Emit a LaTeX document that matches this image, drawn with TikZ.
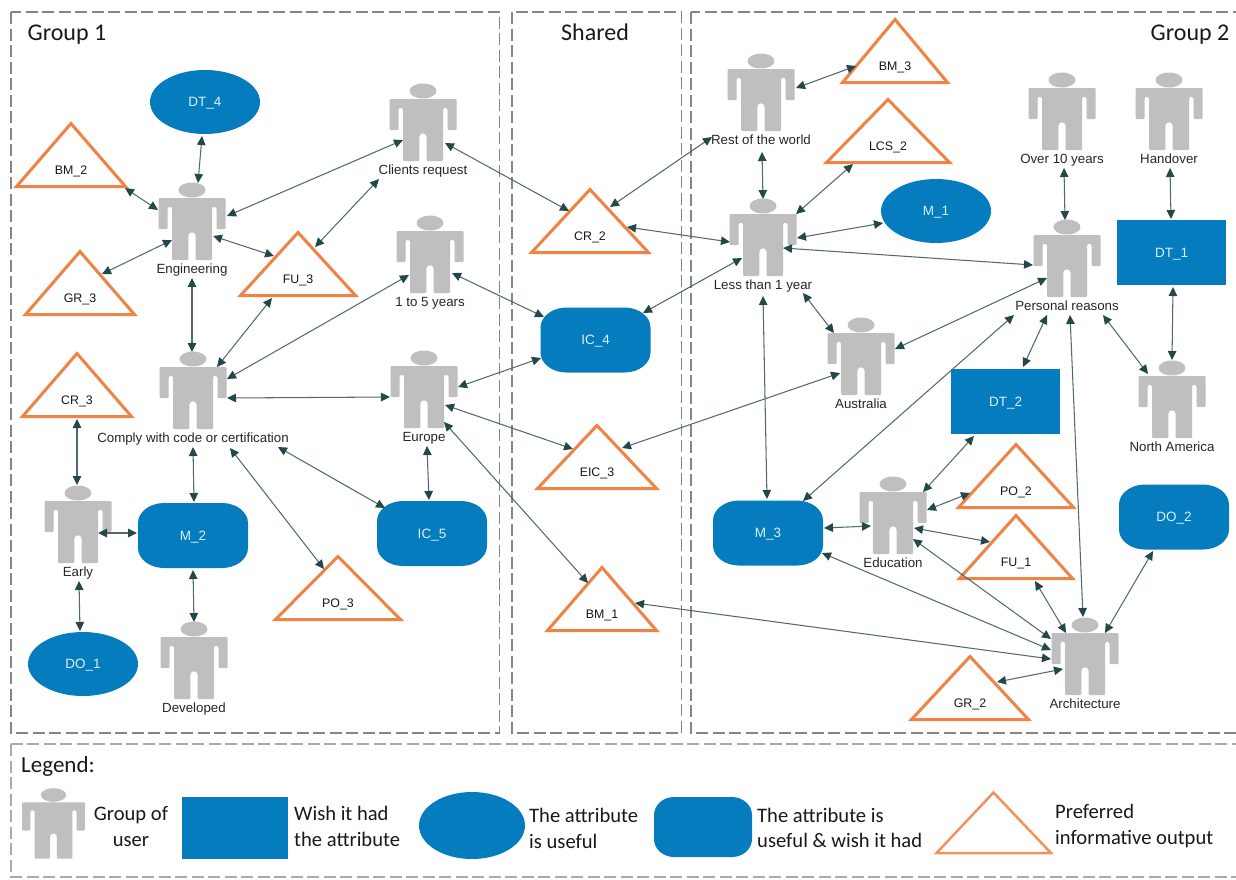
\documentclass[tikz,border=0pt]{standalone}
\usepackage{fontspec}
\setmainfont{Liberation Sans}
\newfontfamily\titlefont{Carlito}
\usetikzlibrary{arrows.meta,shapes.geometric}
\definecolor{persongray}{HTML}{BFBFBF}
\definecolor{attrblue}{HTML}{047CBE}
\definecolor{attrtext}{HTML}{DDF0F9}
\definecolor{triorange}{HTML}{EE8343}
\definecolor{trilight}{HTML}{F1925C}
\definecolor{linkline}{HTML}{4F6B6B}
\definecolor{linkhead}{HTML}{24474A}
\definecolor{panelgray}{HTML}{858585}
\tikzset{
  panel/.style={draw=panelgray,line width=1.3pt,dash pattern=on 12pt off 4.5pt},
  link/.style={draw=linkline,line width=1.05pt,{Triangle[length=9pt,width=8.5pt,color=linkhead]}-{Triangle[length=9pt,width=8.5pt,color=linkhead]}},
  personbox/.style={rectangle,minimum width=67pt,minimum height=78pt,inner sep=0pt},
  plabel/.style={inner sep=0pt,text height=11pt,text depth=2pt,text=black!85,font=\fontsize{13.3}{15}\selectfont},
  tlabel/.style={inner sep=1pt,text height=10pt,text depth=1pt,text=black!90,font=\fontsize{12.4}{14}\selectfont},
  triline/.style={draw=triorange,line width=3pt,fill=white,miter limit=10},
  attrlabel/.style={inner sep=0pt,text height=10.5pt,text depth=1.5pt,text=attrtext,font=\fontsize{13.5}{15}\selectfont},
  ovalnode/.style={attrlabel,ellipse,fill=attrblue,minimum width=110pt,minimum height=64pt},
  rectnode/.style={attrlabel,rectangle,fill=attrblue,minimum width=109pt,minimum height=65pt},
  blobnode/.style={attrlabel,rectangle,minimum width=110pt,minimum height=65pt},
  paneltitle/.style={inner sep=0pt,anchor=base,text=black!90,font=\titlefont\fontsize{24}{28}\selectfont},
  legendtext/.style={inner sep=0pt,text=black!90,align=left,font=\titlefont\fontsize{20.6}{25.5}\selectfont},
}
% a person: centre x, head y
\newcommand\personshape[2]{%
  \fill[persongray] (#1,#2) ellipse[x radius=13.5,y radius=7.5];
  \begin{scope}[shift={(#1,#2)}]
  \fill[persongray,rounded corners=1pt]
    (-33.5,8) -- (33.5,8) -- (33.5,39) -- (24.5,39) -- (24.5,20)
    .. controls (24.5,16) and (20,16) .. (20,20) -- (20,70) -- (3.7,70) -- (3.7,47)
    .. controls (3.7,41) and (-3.7,41) .. (-3.7,47) -- (-3.7,70) -- (-20,70) -- (-20,20)
    .. controls (-20,16) and (-24.5,16) .. (-24.5,20) -- (-24.5,39) -- (-33.5,39) -- cycle;
  \end{scope}}
% name, centre x, head y, label
\newcommand\person[4]{%
  \personshape{#2}{#3}
  \node[personbox] (#1) at (#2,#3+31) {};
  \node[plabel] (#1L) at (#2,#3+78.5) {#4};}
% name, x, label y, half width, label
\newcommand\tri[5]{%
  \draw[triline] (#2,#3-46.5) -- (#2+#4+1.5,#3+16.5) -- (#2-#4-1.5,#3+16.5) -- cycle;
  \node[tlabel] (#1) at (#2,#3) {#5};}
% blob outline: cx, cy, half width, half height, rx, ry
\newcommand\blobshape[6]{%
  \begin{scope}[shift={(#1,#2)}]
  \fill[attrblue] (-#3+#5,-#4) -- (#3-#5,-#4)
    .. controls (#3-.45*#5,-#4) and (#3,-#4+.45*#6) .. (#3,-#4+#6)
    -- (#3,#4-#6)
    .. controls (#3,#4-.45*#6) and (#3-.45*#5,#4) .. (#3-#5,#4)
    -- (-#3+#5,#4)
    .. controls (-#3+.45*#5,#4) and (-#3,#4-.45*#6) .. (-#3,#4-#6)
    -- (-#3,-#4+#6)
    .. controls (-#3,-#4+.45*#6) and (-#3+.45*#5,-#4) .. (-#3+#5,-#4) -- cycle;
  \end{scope}}
\newcommand\blob[4]{%
  \blobshape{#2}{#3}{55}{32.5}{26}{20}
  \node[blobnode] (#1) at (#2,#3) {#4};}
\newcommand\conn[6]{\draw[link] ([shift={(#2,#3)}]#1.center) -- ([shift={(#5,#6)}]#4.center);}
\begin{document}
\begin{tikzpicture}[x=1pt,y=-1pt]
\useasboundingbox (0,0) rectangle (1236,879);
\begin{scope}
\clip (0,0) rectangle (1236,879);
\draw[panel] (11,12) rectangle (499.5,733);
\draw[panel] (512,12) rectangle (681.5,733);
\draw[panel] (691,12) rectangle (1245,733);
\draw[panel,draw=panelgray!70] (11,744) rectangle (1245,877);
\end{scope}
\node[paneltitle] (g1) at (67,40) {Group 1};
\node[paneltitle] (sh) at (595,40) {Shared};
\node[paneltitle] (g2) at (1190,40) {Group 2};

% persons
\person{eng}{192}{190}{Engineering}
\person{clients}{423}{91}{Clients request}
\person{yrs}{430}{223}{1 to 5 years}
\person{comply}{193}{359}{Comply with code or certification}
\person{europe}{424}{358}{Europe}
\person{early}{78}{493}{Early}
\person{dev}{194}{629}{Developed}
\person{rest}{761}{61}{Rest of the world}
\person{less}{763}{206}{Less than 1 year}
\person{over}{1062}{80}{Over 10 years}
\person{hand}{1169}{80}{Handover}
\person{pers}{1067}{227}{Personal reasons}
\person{nam}{1172}{368}{North America}
\person{aus}{861}{325}{Australia}
\person{edu}{893}{484}{Education}
\person{arch}{1085}{625}{Architecture}

% triangles
\tri{bmtwo}{71}{170}{53}{BM\_2}
\tri{grthree}{80}{298}{53}{GR\_3}
\tri{futhree}{298}{279}{56}{FU\_3}
\tri{crthree}{77}{400}{53}{CR\_3}
\tri{pothree}{338}{603}{61}{PO\_3}
\tri{crtwo}{590}{236}{57}{CR\_2}
\tri{eicthree}{597}{472}{58}{EIC\_3}
\tri{bmone}{602}{614}{53}{BM\_1}
\tri{bmthree}{895}{66}{51}{BM\_3}
\tri{lcstwo}{888}{146}{60}{LCS\_2}
\tri{potwo}{1016}{491}{56}{PO\_2}
\tri{fuone}{1016}{562}{55}{FU\_1}
\tri{grtwo}{970}{703}{57}{GR\_2}

% attribute shapes
\node[ovalnode] (dtfour) at (205,102) {DT\_4};
\node[ovalnode] (mone) at (936,211) {M\_1};
\node[ovalnode] (doone) at (83,664) {DO\_1};
\node[rectnode] (dtone) at (1171.5,252.5) {DT\_1};
\node[rectnode] (dttwo) at (1005.5,401.5) {DT\_2};
\blob{icfour}{595.5}{340}{IC\_4}
\blob{mtwo}{193}{535.5}{M\_2}
\blob{icfive}{432}{533.5}{IC\_5}
\blob{mthree}{768}{533}{M\_3}
\blob{dotwo}{1174}{517}{DO\_2}

% connectors
\conn{dtfour}{-3}{34}{eng}{6}{-38}
\conn{bmtwo}{54}{18}{eng}{-34}{-11}
\conn{grthree}{22}{-24}{eng}{-20}{19}
\conn{eng}{21}{15}{futhree}{-24}{-23}
\conn{eng}{35}{-5}{clients}{-20}{18}
\conn{futhree}{17}{-32}{clientsL}{-44}{9.5}
\conn{engL}{0}{9.5}{comply}{-1}{-38}
\conn{futhree}{-26}{19}{comply}{24}{-23}
\conn{yrs}{-21}{21}{comply}{34}{-11}
\conn{clients}{22}{21}{crtwo}{-21}{-25}
\conn{yrs}{22}{19}{icfour}{-51.5}{-23}
\conn{comply}{34}{8}{europe}{-34}{8}
\conn{complyL}{0}{9.5}{mtwo}{1}{-33.5}
\conn{crthree}{0}{19}{early}{-1}{-39}
\conn{early}{20}{9}{mtwo}{-56}{-2.5}
\conn{earlyL}{1}{9.5}{doone}{-3}{-33}
\conn{mtwo}{0}{34.5}{dev}{0}{-38}
\conn{complyL}{37}{10.5}{pothree}{-14}{-34}
\conn{complyL}{85}{9.5}{icfive}{-47}{-25.5}
\conn{europe}{34}{-2}{icfour}{-54.5}{18}
\conn{europe}{21}{16}{eicthree}{-24}{-23}
\conn{europe}{20}{33}{bmone}{-14}{-31}
\conn{europeL}{3}{9.5}{icfive}{-3}{-33.5}
\conn{eicthree}{25}{-24}{aus}{-21}{17}
\conn{bmone}{33}{-11}{arch}{-34}{3}
\conn{crtwo}{20}{-29}{restL}{-49}{-2.5}
\conn{crtwo}{37}{-9}{less}{-33}{5}
\conn{icfour}{47.5}{-27}{less}{-21}{21}
\conn{rest}{35}{-4}{bmthree}{-39}{0}
\conn{restL}{1}{12.5}{less}{0}{-38}
\conn{less}{33}{-23}{lcstwo}{-35}{18}
\conn{less}{34}{1}{mone}{-53}{12}
\conn{less}{20}{11}{pers}{-34}{7}
\conn{lessL}{0}{11.5}{mthree}{-1}{-34}
\conn{lessL}{40}{8.5}{aus}{-27}{-23}
\conn{pers}{-20}{20}{aus}{34}{-7}
\conn{persL}{-53}{9.5}{mthree}{35}{-32}
\conn{persL}{-20}{9.5}{dttwo}{17.5}{-34.5}
\conn{persL}{3}{9.5}{arch}{-2}{-39}
\conn{persL}{36}{9.5}{nam}{-24}{-25}
\conn{overL}{2}{9.5}{pers}{-2}{-38}
\conn{handL}{1}{9.5}{dtone}{-0.5}{-33.5}
\conn{dtone}{1.5}{34.5}{nam}{0}{-39}
\conn{dttwo}{-31.5}{34.5}{edu}{30}{-23}
\conn{edu}{34}{-5}{potwo}{-46}{2}
\conn{mthree}{56}{-5}{edu}{-22}{11}
\conn{edu}{21}{13}{fuone}{-26}{-20}
\conn{edu}{20}{24}{arch}{-34}{-17}
\conn{mthree}{54}{20}{arch}{-34}{-6}
\conn{fuone}{19}{19}{arch}{-19}{-23}
\conn{dotwo}{-21}{34}{arch}{20}{-23}
\conn{grtwo}{27}{-21}{arch}{-22}{13}

% legend
\node[legendtext,font=\titlefont\fontsize{23}{26}\selectfont] (leg) at (58,766) {Legend:};
\begin{scope}[shift={(53.5,795)},yscale=0.91,xscale=0.94]
\personshape{0}{0}
\end{scope}
\node[legendtext,align=center] (lgperson) at (131,826.5) {Group of\\user};
\node[rectangle,fill=attrblue,minimum width=106pt,minimum height=62pt,inner sep=0pt] (lgrect) at (235,828) {};
\node[legendtext,anchor=west] (lgrectt) at (294,826.5) {Wish it had\\the attribute};
\node[ellipse,fill=attrblue,minimum width=106pt,minimum height=67pt,inner sep=0pt] (lgoval) at (472,825.5) {};
\node[legendtext,anchor=west] (lgovalt) at (529,828.5) {The attribute\\is useful};
\blobshape{703}{827}{49}{30}{20}{18}
\node[legendtext,anchor=west] (lgblobt) at (757,828) {The attribute is\\useful \& wish it had};
\draw[draw=trilight,line width=2.5pt,miter limit=10] (993.5,792.5) -- (1051,853) -- (936.5,853) -- cycle;
\node[legendtext,anchor=west] (lgtrit) at (1055,826) {Preferred\\informative output};
\end{tikzpicture}
\end{document}
